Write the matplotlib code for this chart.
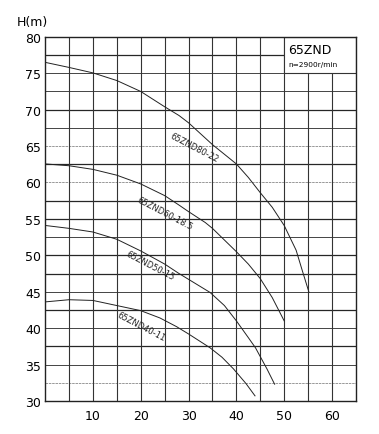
import matplotlib.pyplot as plt
from matplotlib.patches import Rectangle

# pump curves: flow Q, head H(m)
q_80_22 = [0, 5, 10, 15, 20, 25, 28, 30, 35, 40, 42.5, 45, 47.5, 50, 52.5, 53.7, 55.2]
h_80_22 = [76.5, 75.8, 75.05, 74.0, 72.5, 70.4, 69.2, 68.2, 65.2, 62.55, 60.7,
           58.6, 56.6, 54.1, 50.7, 48.1, 44.9]

q_60_18 = [0, 5, 10, 15, 20, 25, 28, 30, 33.5, 35, 40, 42.5, 45, 47.5, 50]
h_60_18 = [62.55, 62.3, 61.8, 61.0, 59.8, 58.2, 56.9, 56.0, 54.5, 53.7, 50.5,
           48.8, 46.8, 44.2, 41.0]

q_50_15 = [0, 5, 10, 15, 20, 25, 28, 30, 34.5, 37.5, 40, 42.5, 44, 46.4, 48]
h_50_15 = [54.1, 53.7, 53.2, 52.2, 50.6, 48.8, 47.5, 46.7, 44.9, 43.1, 41.0,
           38.7, 37.3, 34.4, 32.3]

q_40_11 = [0, 5, 10, 15, 20, 24, 27.5, 30, 34.5, 37, 39.4, 42, 43.9]
h_40_11 = [43.6, 43.9, 43.8, 43.1, 42.4, 41.4, 40.2, 39.2, 37.3, 36.0, 34.4,
           32.4, 30.7]

names = ["65ZND80-22", "65ZND60-18.5", "65ZND50-15", "65ZND40-11"]
label_pos = [(31.2, 64.9), (25.1, 55.8), (22.0, 48.7), (20.1, 40.3)]

x_ticks = [10, 20, 30, 40, 50, 60]
y_ticks = [30, 35, 40, 45, 50, 55, 60, 65, 70, 75, 80]

# horizontal grid every 2.5 m, drawn with the uneven weight of the scan
h_lines = [32.5, 35, 37.5, 40, 42.5, 45, 47.5, 50, 52.5, 55, 57.5, 60,
           62.5, 65, 67.5, 70, 72.5, 75, 77.5]
bold = {37.5, 42.5, 47.5, 50, 55, 57.5, 62.5, 70, 77.5}
light = {32.5, 60, 65}

plt.rcParams["font.family"] = "DejaVu Sans"

fig = plt.figure(figsize=(3.79, 4.35), dpi=100)
ax = fig.add_axes([0.119, 0.076, 0.82, 0.837])

for y in h_lines:
    if y in bold:
        ax.axhline(y, color="#262626", lw=0.9, zorder=1)
    elif y in light:
        ax.axhline(y, color="#888888", lw=0.6, ls=(0, (3, 1)), zorder=1)
    else:
        ax.axhline(y, color="#444444", lw=0.7, zorder=1)
for x in range(5, 65, 5):
    ax.axvline(x, color="#333333", lw=0.8, zorder=1)

# model box in the top-right corner
ax.add_patch(Rectangle((50, 75), 15, 5, facecolor="white",
                       edgecolor="#333333", lw=0.8, zorder=2))
ax.text(50.8, 78.3, "65ZND", fontsize=9, va="center", ha="left", zorder=4)
ax.text(50.8, 76.3, "n=2900r/min", fontsize=5.3, va="center", ha="left",
        zorder=4)

curves = [(q_80_22, h_80_22), (q_60_18, h_60_18), (q_50_15, h_50_15),
          (q_40_11, h_40_11)]
for (q, h), name, (lx, ly) in zip(curves, names, label_pos):
    ax.plot(q, h, color="#222222", lw=0.7, zorder=3)
    ax.text(lx, ly, name, fontsize=6, rotation=-27.5, rotation_mode="anchor",
            ha="center", va="center", color="#222222", zorder=4)

ax.set_xlim(0, 65)
ax.set_ylim(30, 80)
ax.set_xticks(x_ticks)
ax.set_yticks(y_ticks)
ax.tick_params(length=0, labelsize=9)
ax.tick_params(axis="x", pad=6)
ax.tick_params(axis="y", pad=3)
for s in ax.spines.values():
    s.set_linewidth(1.0)
    s.set_color("#222222")

fig.text(0.045, 0.949, "H(m)", fontsize=9, ha="left", va="center")

fig.savefig("out.png", dpi=100)
